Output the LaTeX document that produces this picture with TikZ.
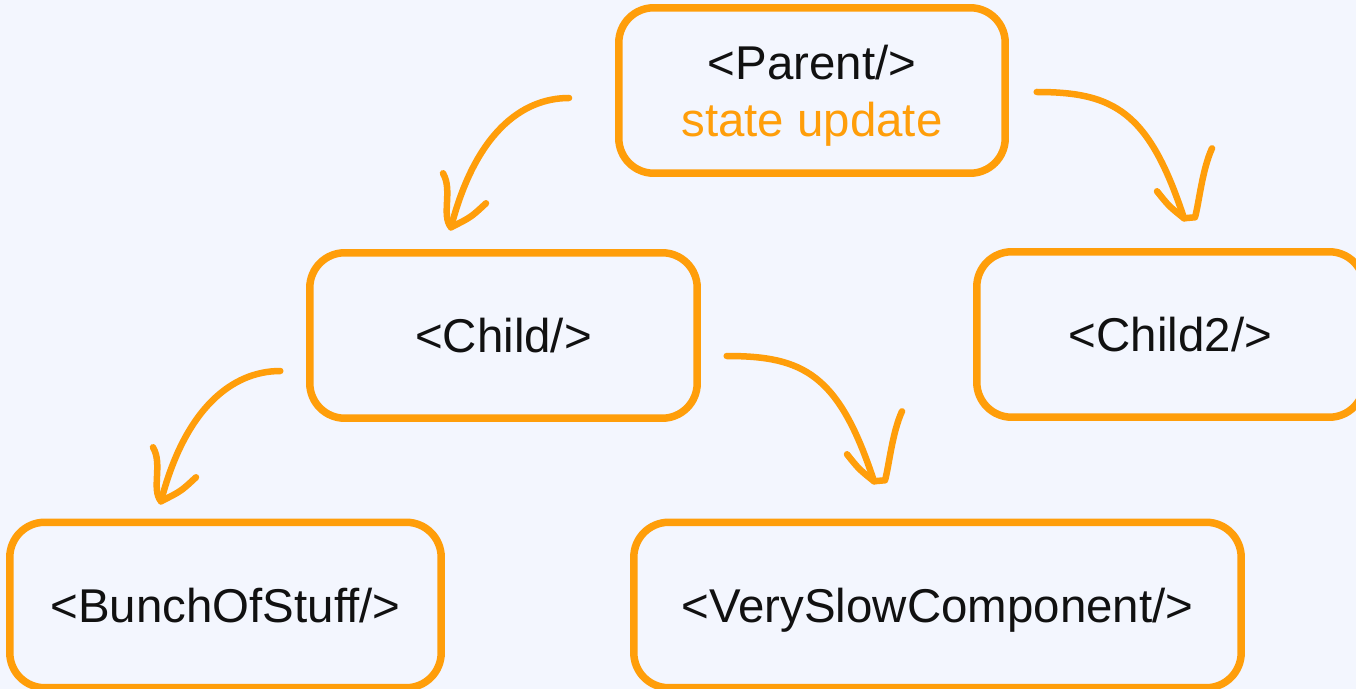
\documentclass[tikz,border=0pt]{standalone}
\usepackage{fontspec}
\setmainfont{Liberation Sans}
\usetikzlibrary{calc}
\definecolor{amber}{HTML}{FF9E0A}
\definecolor{paper}{HTML}{F3F6FE}
\definecolor{ink}{HTML}{111111}

\tikzset{
	comp/.style={draw=amber, line width=0.15cm, rounded corners=0.7cm, inner sep=0pt,
		minimum height=3.31cm, align=center, text=ink, font=\fontsize{27}{32.4}\selectfont},
	tag/.style={comp, text depth=0pt},
	curl/.style={draw=amber, line width=0.13cm, line cap=round, line join=round},
	% hand drawn open heads, tip at the pic origin
	pics/headsw/.style={code={
		\draw[curl] (-8,-54) .. controls (2,-37) and (-10,-12) .. (0,0);
		\draw[curl] (35,-24) .. controls (20,-10) .. (0,0);
	}},
	pics/headse/.style={code={
		\draw[curl] (-27,-27) .. controls (-15,-12) .. (0,0);
		\draw[curl] (28,-70) .. controls (18,-48) and (15,-15) .. (11,-1) -- (0,0);
	}},
}

\begin{document}
\begin{tikzpicture}[x=0.02cm, y=-0.02cm]
	\fill [paper] (0,0) rectangle (1356,689);
	\useasboundingbox (0,0) rectangle (1356,689);
	\clip (0,0) rectangle (1356,689);

	\node [comp, minimum width=7.73cm] (parent) at (812,90.5) {<Parent/>\\\textcolor{amber}{\smash{state update}}};
	\node [tag, minimum width=7.75cm] (child) at (503.5,335.5) {<Child/>};
	\node [tag, minimum width=7.75cm] (child2) at (1170.5,334.5) {<Child2/>};
	\node [tag, minimum width=8.63cm] (bunch) at (225.5,605) {<BunchOfStuff/>};
	\node [tag, minimum width=12.15cm] (slow) at (937.5,605) {<VerySlowComponent/>};

	\draw [curl] ($(parent.west)+(-46,7.5)$) .. controls +(-48,0) and +(24,-93) .. ($(child.north)+(-52.5,-21.75)$) coordinate (tipa);
	\pic at (tipa) {headsw};
	\draw [curl] ($(parent.east)+(27.75,1.5)$) .. controls +(77,0) and +(-35,-107) .. ($(child2.north)+(13.5,-29.75)$) coordinate (tipb);
	\pic at (tipb) {headse};
	\draw [curl] ($(child.west)+(-25.75,35.5)$) .. controls +(-48,0) and +(24,-93) .. ($(bunch.north)+(-64.5,-17.25)$) coordinate (tipc);
	\pic at (tipc) {headsw};
	\draw [curl] ($(child.east)+(25.75,20.5)$) .. controls +(77,0) and +(-35,-107) .. ($(slow.north)+(-63.5,-37.25)$) coordinate (tipd);
	\pic at (tipd) {headse};
\end{tikzpicture}
\end{document}
